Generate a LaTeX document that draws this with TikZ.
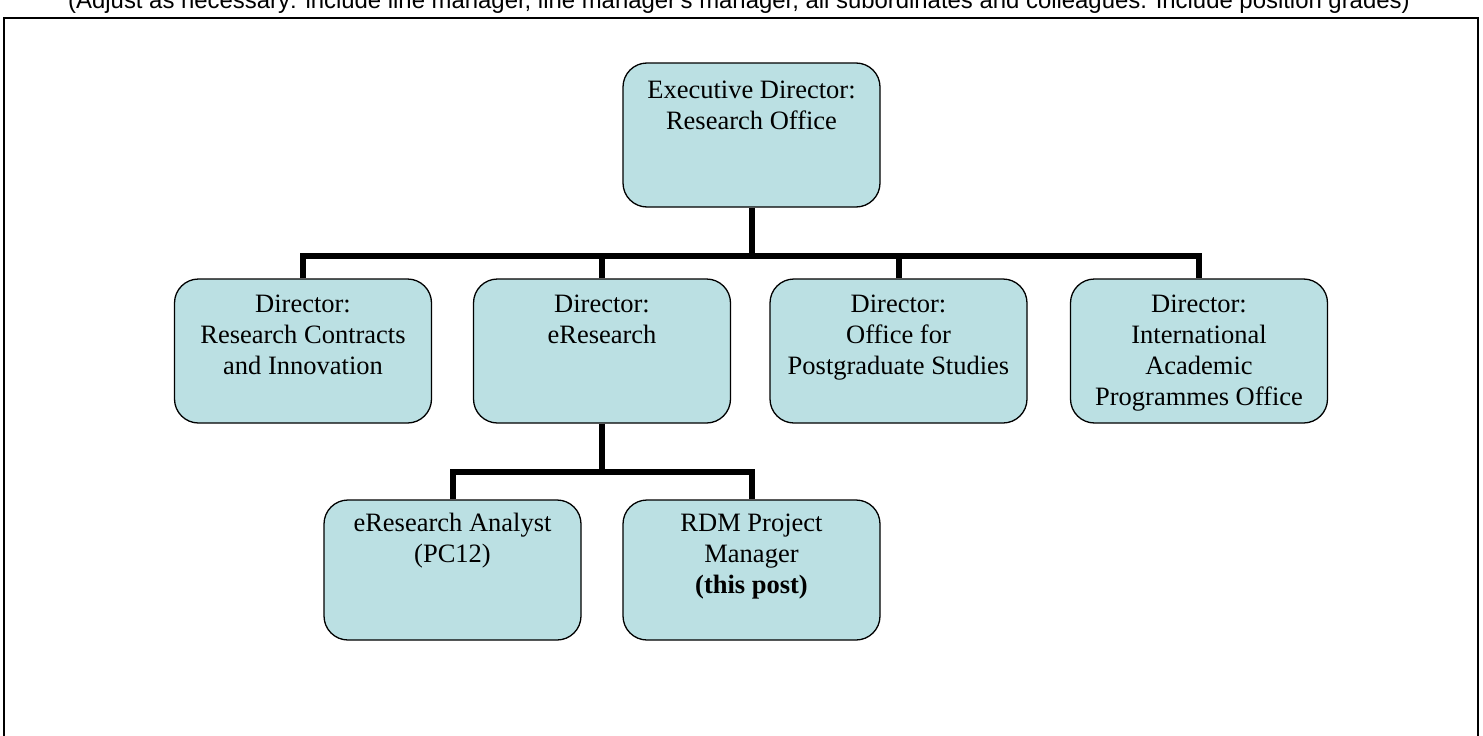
\documentclass[tikz,border=0pt]{standalone}
\usepackage{fontspec}
\setmainfont{Liberation Serif}
\newfontfamily\arialfont{Liberation Sans}
\definecolor{boxfill}{RGB}{187,224,227}
\begin{document}
\begin{tikzpicture}[x=1pt,y=-1pt,
  orgbox/.style={draw=black, line width=1.3pt, fill=boxfill, rounded corners=24pt,
    inner sep=0pt, minimum width=257pt},
  lvltwo/.style={orgbox, minimum height=144pt},
  lvlthree/.style={orgbox, minimum height=140pt},
  boxtext/.style={font=\fontsize{26.5}{31}\selectfont, align=center, inner sep=0pt, anchor=north},
  link/.style={line width=6pt, line join=miter},
  frameline/.style={line width=1.6pt}]
\useasboundingbox (0,0) rectangle (1483,736);
\clip (0,0) rectangle (1483,736);
\fill[white] (0,0) rectangle (1483,736);

% note above the frame (cut off at the top)
\node[font=\arialfont\fontsize{23.9}{28}\selectfont, anchor=base, inner sep=0pt] (note) at (739,8.5)
  {(Adjust as necessary: include line manager, line manager's manager, all subordinates and colleagues. Include position grades)};

% frame
\draw[frameline] (4,745) -- (4,18) -- (1478,18) -- (1478,745);

% boxes
\node[orgbox, minimum height=144pt] (exec) at (751.5,135) {};
\node[lvltwo] (rc) at (303,351) {};
\node[lvltwo] (er) at (602,351) {};
\node[lvltwo] (pg) at (898.5,351) {};
\node[lvltwo] (ia) at (1199,351) {};
\node[lvlthree] (an) at (452.5,570) {};
\node[lvlthree] (rdm) at (751.5,570) {};

% texts
\node[boxtext] (execT) at ([yshift=-16pt]exec.north) {\rule{0pt}{20pt}Executive Director:\\Research Office};
\node[boxtext] (rcT) at ([yshift=-13.5pt]rc.north) {\rule{0pt}{20pt}Director:\\Research Contracts\\and Innovation};
\node[boxtext] (erT) at ([yshift=-13.5pt]er.north) {\rule{0pt}{20pt}Director:\\eResearch};
\node[boxtext] (pgT) at ([yshift=-13.5pt]pg.north) {\rule{0pt}{20pt}Director:\\Office for\\Postgraduate Studies};
\node[boxtext] (iaT) at ([yshift=-13.5pt]ia.north) {\rule{0pt}{20pt}Director:\\International\\Academic\\Programmes Office};
\node[boxtext] (anT) at ([yshift=-12pt]an.north) {\rule{0pt}{20pt}eResearch Analyst\\(PC12)};
\node[boxtext] (rdmT) at ([yshift=-12pt]rdm.north) {\rule{0pt}{20pt}RDM Project\\Manager\\\textbf{(this post)}};

% connectors
\coordinate (busA) at (751.5,256);
\coordinate (busB) at (602,472);
\draw[link] (exec.south) -- (busA);
\draw[link] (rc.north) |- (busA) -| (ia.north);
\draw[link] (er.north) -- (er.north |- busA);
\draw[link] (pg.north) -- (pg.north |- busA);
\draw[link] (er.south) -- (busB);
\draw[link] (an.north) |- (busB) -| (rdm.north);
\end{tikzpicture}
\end{document}
